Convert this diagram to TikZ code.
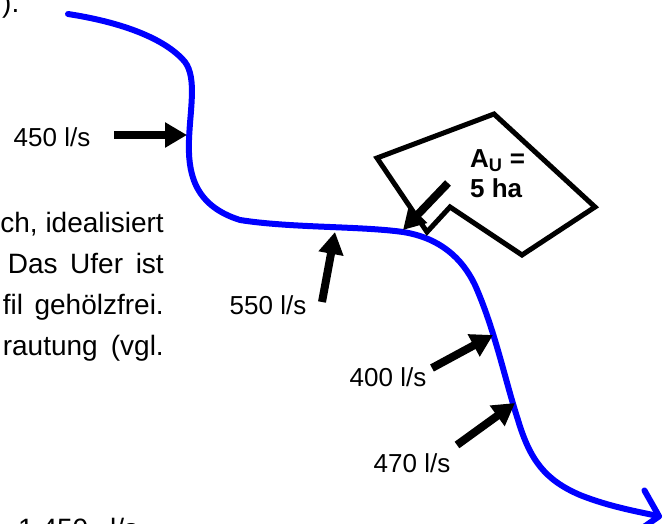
\documentclass[tikz,border=0pt]{standalone}
\usepackage{fontspec}
\setmainfont{Liberation Sans}
\usetikzlibrary{arrows.meta}

\tikzset{
  body/.style={anchor=base east, inner sep=0pt, font=\fontsize{28}{41}\selectfont},
  lbl/.style={inner sep=0pt, font=\fontsize{26}{30}\selectfont},
  inflow/.style={line width=8pt, -{Triangle[length=22pt,width=24pt]}},
  river/.style={blue, line width=6pt, line cap=round,
    -{Straight Barb[length=20pt,width=44pt,round]}},
  area/.style={line width=5pt, line join=miter},
}

\begin{document}
\begin{tikzpicture}[x=1pt,y=-1pt]
\useasboundingbox (0,0) rectangle (664,524);
\clip (0,0) rectangle (664,524);

% running text of the page beside the sketch (justified column)
\node[anchor=base west, inner sep=0pt, font=\fontsize{28}{41}\selectfont] (t0) at (2,13) {).};
\node[body] (t1) at (164,232) {ch, idealisiert};
\node[body] (t2) at (164,273) {\makebox[156pt][s]{Das Ufer ist}};
\node[body] (t3) at (164,314) {\makebox[161pt][s]{fil gehölzfrei.}};
\node[body] (t4) at (164,355) {\makebox[161pt][s]{rautung (vgl.}};
\node[anchor=base west, inner sep=0pt, font=\fontsize{28}{41}\selectfont] (t5) at (18,538) {1.450\hspace{22pt}l/s};

% watercourse
\draw[river] (68,14) .. controls (120,22) and (165,38) .. (185,62)
  .. controls (197,78) and (190,110) .. (189,140)
  .. controls (188,170) and (192,205) .. (240,220)
  .. controls (290,228) and (360,226) .. (403,232)
  .. controls (440,238) and (462,258) .. (475,285)
  .. controls (495,330) and (505,380) .. (518,420)
  .. controls (530,460) and (545,480) .. (580,495)
  .. controls (610,507) and (640,512) .. (662,517);

% catchment area
\coordinate (p1) at (377,158);
\coordinate (p2) at (494,114);
\coordinate (p3) at (595,207);
\coordinate (p4) at (522,255);
\coordinate (p5) at (450,207);
\coordinate (p6) at (427,232);
\draw[area] (p1) -- (p2) -- (p3) -- (p4) -- (p5) -- (p6) -- cycle;
\node[lbl, font=\fontsize{26}{30}\selectfont\bfseries, align=left, anchor=north west] (au) at (470,149)
  {A\textsubscript{U} =\\5 ha};

% inflow points
\coordinate (s450) at (114,135);  \coordinate (e450) at (187,135);
\coordinate (s550) at (322,302);  \coordinate (e550) at (335,232);
\coordinate (sau)  at (448,183);  \coordinate (eau)  at (403,230);
\coordinate (s400) at (432,368);  \coordinate (e400) at (493,335);
\coordinate (s470) at (457,445);  \coordinate (e470) at (515,403);

\draw[inflow] (s450) -- (e450);
\draw[inflow] (s550) -- (e550);
\draw[inflow] (sau) -- (eau);
\draw[inflow] (s400) -- (e400);
\draw[inflow] (s470) -- (e470);

\node[lbl] (q450) at (52,137) {450 l/s};
\node[lbl] (q550) at (268,305) {550 l/s};
\node[lbl] (q400) at (388,377) {400 l/s};
\node[lbl] (q470) at (412,463) {470 l/s};
\end{tikzpicture}
\end{document}
